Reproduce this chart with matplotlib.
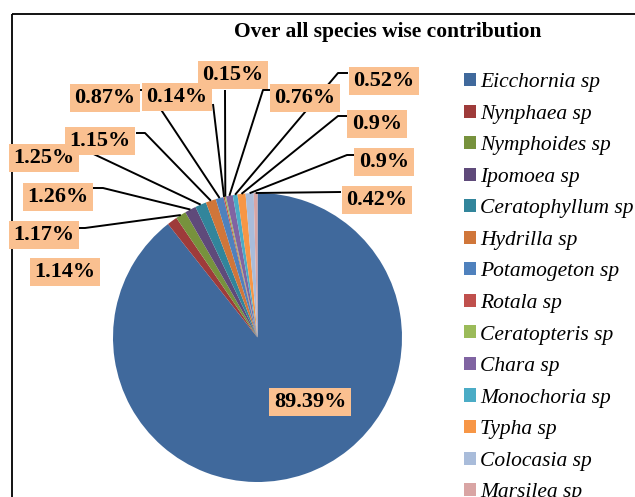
import numpy as np
import matplotlib.pyplot as plt
from matplotlib.patches import Rectangle

plt.rcParams['font.family'] = 'serif'
plt.rcParams['font.serif'] = ['Liberation Serif', 'DejaVu Serif']

# data
species = ['Eicchornia sp', 'Nynphaea sp', 'Nymphoides sp', 'Ipomoea sp',
           'Ceratophyllum sp', 'Hydrilla sp', 'Potamogeton sp', 'Rotala sp',
           'Ceratopteris sp', 'Chara sp', 'Monochoria sp', 'Typha sp',
           'Colocasia sp', 'Marsilea sp']
share = [89.39, 1.14, 1.17, 1.26, 1.25, 1.15, 0.87, 0.14, 0.15, 0.76, 0.52, 0.9, 0.9, 0.42]
colors = ['#40699c', '#9e3b3a', '#77923d', '#5f4a7a', '#32859b', '#d0763a', '#4f81bd',
          '#c0504d', '#9bbb59', '#8064a2', '#4bacc6', '#f79646', '#a9bcda', '#d9a5a4']

# label layout (pixel coords, y down)
lab_xy = [(310, 402), (65, 272), (44, 235), (58, 197), (44, 158), (100, 141), (105, 98),
          (177, 97), (233, 75), (305, 98), (384, 81), (377, 124), (384, 162), (377, 200)]
leader = [None, None, [(77, 228), (85, 228)], [(93, 188), (103, 188)], [(76, 150), (85, 150)],
          [(136, 133), (145, 133)], [(140, 90), (148, 90)], [(213, 104)], [(225, 90)],
          [(270, 90), (263, 90)], [(348, 73), (338, 73)], [(347, 116), (338, 116)],
          [(354, 155), (347, 155)], [(341, 192)]]

W, H = 635, 497
fig = plt.figure(figsize=(W / 100, H / 100), dpi=100)
ax = fig.add_axes([0, 0, 1, 1])

cx, cy, r = 257.5, 337.5, 144.5
wedges, _ = ax.pie(share, colors=colors, startangle=-90, counterclock=True,
                   center=(cx, cy), radius=r, frame=True,
                   wedgeprops=dict(linewidth=0))
ax.set_xlim(0, W)
ax.set_ylim(H, 0)
ax.set_aspect('auto')
ax.axis('off')

# chart frame
ax.add_patch(Rectangle((11.5, 14), 700, 600, fill=False, edgecolor='black', lw=1.3, zorder=0))

ax.text(388, 32, 'Over all species wise contribution', ha='center', va='center',
        fontsize=15.5, fontweight='bold')

for i, w in enumerate(wedges):
    if leader[i] is not None:
        mid = np.deg2rad((w.theta1 + w.theta2) / 2)
        ex, ey = cx + r * np.cos(mid), cy + r * np.sin(mid)
        pts = leader[i] + [(ex, ey)]
        ax.plot([p[0] for p in pts], [p[1] for p in pts], color='black', lw=1.4,
                zorder=3, solid_capstyle='butt')
    ax.text(lab_xy[i][0], lab_xy[i][1], '%g%%' % share[i], ha='center', va='center',
            fontsize=16, fontweight='bold', zorder=5,
            bbox=dict(boxstyle='square,pad=0.2', fc='#fac090', ec='none'))

leg = ax.legend(wedges, species, loc='upper left', bbox_to_anchor=(464 / W, 1 - 73 / H),
                frameon=False, borderpad=0, borderaxespad=0, handlelength=0.56,
                handleheight=0.56, handletextpad=0.19, labelspacing=0.575,
                prop=dict(style='italic', size=15.5))

fig.savefig('out.png', dpi=100)
